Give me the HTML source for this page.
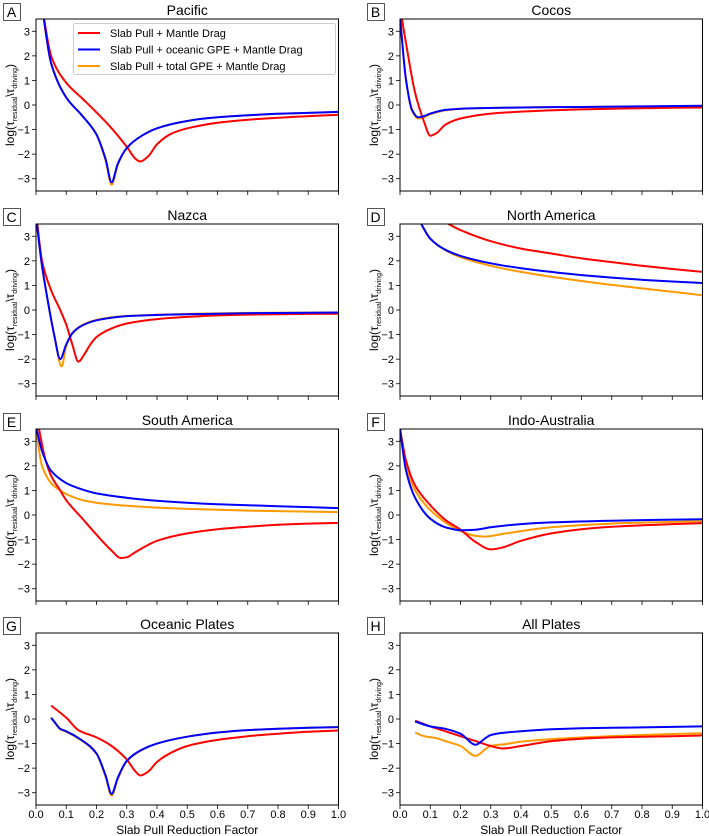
<!DOCTYPE html>
<html><head><meta charset="utf-8">
<style>
html,body{margin:0;padding:0;background:#fff;}
svg{display:block;font-family:"Liberation Sans",Arial,sans-serif;}
</style></head>
<body>
<svg id="fig" width="709" height="836" viewBox="0 0 709 836" xmlns="http://www.w3.org/2000/svg"></svg>
<script>
// ---- data ----
const panelTitles = ["Pacific","Cocos","Nazca","North America","South America","Indo-Australia","Oceanic Plates","All Plates"];
const panelLetters = ["A","B","C","D","E","F","G","H"];
const seriesNames = ["Slab Pull + Mantle Drag","Slab Pull + oceanic GPE + Mantle Drag","Slab Pull + total GPE + Mantle Drag"];
const xTicks = [0,0.1,0.2,0.3,0.4,0.5,0.6,0.7,0.8,0.9,1.0];
const xTickLabels = ["0.0","0.1","0.2","0.3","0.4","0.5","0.6","0.7","0.8","0.9","1.0"];
const yTicks = [-3,-2,-1,0,1,2,3];
const yTickLabels = ["\u22123","\u22122","\u22121","0","1","2","3"];

// Pacific
const pacRedX = [0.02,0.05,0.1,0.15,0.2,0.25,0.3,0.33,0.345,0.37,0.4,0.45,0.5,0.6,0.7,0.8,0.9,1.0];
const pacRedY = [4,2,0.9,0.3,-0.3,-0.95,-1.7,-2.2,-2.3,-2.1,-1.6,-1.15,-0.95,-0.72,-0.6,-0.52,-0.45,-0.4];
const pacBlueX = [0.02,0.05,0.1,0.15,0.2,0.23,0.25,0.27,0.3,0.35,0.4,0.5,0.6,0.7,0.8,0.9,1.0];
const pacBlueY = [4,1.7,0.3,-0.4,-1.2,-2.2,-3.15,-2.4,-1.75,-1.25,-0.95,-0.65,-0.5,-0.42,-0.36,-0.32,-0.28];
const pacOrangeX = [0.02,0.05,0.1,0.15,0.2,0.23,0.25,0.27,0.3,0.35,0.4,0.5,0.6,0.7,0.8,0.9,1.0];
const pacOrangeY = [4,1.7,0.3,-0.4,-1.2,-2.25,-3.25,-2.45,-1.75,-1.25,-0.95,-0.65,-0.5,-0.42,-0.36,-0.32,-0.28];
// Cocos
const cocRedX = [0.0,0.02,0.05,0.08,0.1,0.12,0.15,0.2,0.3,0.4,0.6,0.8,1.0];
const cocRedY = [4,2.5,0.5,-0.7,-1.25,-1.15,-0.8,-0.55,-0.35,-0.27,-0.18,-0.13,-0.1];
const cocBlueX = [0.0,0.02,0.04,0.06,0.08,0.1,0.15,0.2,0.4,0.6,1.0];
const cocBlueY = [3.6,1.0,-0.2,-0.5,-0.45,-0.35,-0.2,-0.15,-0.1,-0.08,-0.03];
const cocOrangeX = [0.0,0.02,0.04,0.06,0.08,0.1,0.15,0.2,0.4,0.6,1.0];
const cocOrangeY = [3.6,1.0,-0.25,-0.55,-0.5,-0.38,-0.22,-0.16,-0.1,-0.08,-0.04];
// Nazca
const nazRedX = [0.0,0.02,0.05,0.08,0.1,0.12,0.14,0.16,0.18,0.2,0.25,0.3,0.4,0.5,0.6,0.8,1.0];
const nazRedY = [4,2,0.8,0,-0.6,-1.4,-2.1,-1.8,-1.4,-1.1,-0.75,-0.55,-0.37,-0.28,-0.22,-0.17,-0.15];
const nazBlueX = [0.0,0.02,0.04,0.06,0.08,0.1,0.12,0.15,0.2,0.3,0.5,0.7,1.0];
const nazBlueY = [3.8,1.8,0.3,-1.0,-2.0,-1.4,-0.95,-0.65,-0.42,-0.25,-0.17,-0.13,-0.1];
const nazOrangeX = [0.0,0.02,0.04,0.06,0.085,0.1,0.12,0.15,0.2,0.3,0.5,0.7,1.0];
const nazOrangeY = [3.8,1.8,0.3,-1.0,-2.3,-1.45,-0.95,-0.63,-0.4,-0.24,-0.16,-0.12,-0.1];
// North America
const naRedX = [0.16,0.2,0.3,0.4,0.5,0.6,0.7,0.8,0.9,1.0];
const naRedY = [3.5,3.25,2.8,2.5,2.3,2.1,1.95,1.8,1.67,1.55];
const naBlueX = [0.07,0.1,0.15,0.2,0.3,0.4,0.5,0.6,0.7,0.8,0.9,1.0];
const naBlueY = [3.5,2.9,2.45,2.2,1.9,1.7,1.55,1.42,1.32,1.23,1.16,1.1];
const naOrangeX = [0.07,0.1,0.15,0.2,0.3,0.4,0.5,0.6,0.7,0.8,0.9,1.0];
const naOrangeY = [3.5,2.9,2.43,2.15,1.8,1.55,1.35,1.18,1.02,0.88,0.74,0.6];
// South America
const saRedX = [0.01,0.03,0.05,0.08,0.1,0.15,0.2,0.25,0.28,0.3,0.33,0.4,0.5,0.6,0.7,0.8,0.9,1.0];
const saRedY = [3.5,2.3,1.6,1.0,0.6,-0.1,-0.8,-1.45,-1.75,-1.72,-1.5,-1.05,-0.75,-0.58,-0.48,-0.4,-0.35,-0.32];
const saBlueX = [0.0,0.02,0.05,0.1,0.15,0.2,0.3,0.4,0.5,0.6,0.7,0.8,0.9,1.0];
const saBlueY = [3.6,2.6,1.8,1.3,1.05,0.88,0.7,0.58,0.5,0.44,0.4,0.36,0.32,0.28];
const saOrangeX = [0.0,0.02,0.05,0.08,0.1,0.15,0.2,0.3,0.4,0.5,0.7,1.0];
const saOrangeY = [3.5,2.0,1.3,1.0,0.85,0.62,0.5,0.38,0.3,0.25,0.18,0.12];
// Indo-Australia
const iaRedX = [0.0,0.02,0.05,0.1,0.15,0.2,0.25,0.3,0.33,0.4,0.5,0.6,0.7,0.8,0.9,1.0];
const iaRedY = [3.5,2.2,1.2,0.4,-0.2,-0.6,-1.1,-1.4,-1.35,-1.05,-0.75,-0.58,-0.48,-0.42,-0.37,-0.33];
const iaBlueX = [0.0,0.02,0.05,0.1,0.15,0.2,0.25,0.3,0.4,0.5,0.7,1.0];
const iaBlueY = [3.5,1.8,0.7,-0.15,-0.5,-0.62,-0.6,-0.5,-0.37,-0.3,-0.23,-0.17];
const iaOrangeX = [0.0,0.02,0.05,0.1,0.15,0.2,0.25,0.28,0.35,0.5,0.7,1.0];
const iaOrangeY = [3.5,2.0,1.0,0.2,-0.3,-0.65,-0.85,-0.88,-0.75,-0.5,-0.35,-0.25];
// Oceanic Plates
const ocRedX = [0.05,0.1,0.14,0.2,0.25,0.3,0.33,0.345,0.37,0.4,0.45,0.5,0.6,0.7,0.8,0.9,1.0];
const ocRedY = [0.55,0.05,-0.45,-0.75,-1.1,-1.65,-2.15,-2.3,-2.15,-1.75,-1.35,-1.1,-0.85,-0.7,-0.6,-0.52,-0.47];
const ocBlueX = [0.05,0.06,0.08,0.1,0.15,0.2,0.23,0.25,0.27,0.3,0.35,0.4,0.5,0.6,0.7,0.8,0.9,1.0];
const ocBlueY = [0.05,-0.1,-0.4,-0.5,-0.85,-1.4,-2.3,-3.05,-2.4,-1.7,-1.25,-1.0,-0.72,-0.55,-0.45,-0.4,-0.36,-0.33];
const ocOrangeX = [0.05,0.06,0.08,0.1,0.15,0.2,0.23,0.25,0.27,0.3,0.35,0.4,0.5,0.6,0.7,0.8,0.9,1.0];
const ocOrangeY = [0.05,-0.1,-0.42,-0.52,-0.87,-1.42,-2.35,-3.12,-2.45,-1.72,-1.26,-1.0,-0.72,-0.55,-0.45,-0.4,-0.36,-0.33];
// All Plates
const apRedX = [0.05,0.1,0.15,0.2,0.25,0.3,0.34,0.4,0.5,0.6,0.7,0.8,0.9,1.0];
const apRedY = [-0.07,-0.3,-0.5,-0.7,-0.9,-1.1,-1.2,-1.1,-0.9,-0.8,-0.75,-0.72,-0.7,-0.67];
const apBlueX = [0.05,0.1,0.15,0.2,0.25,0.28,0.3,0.35,0.4,0.5,0.6,0.8,1.0];
const apBlueY = [-0.1,-0.3,-0.4,-0.6,-1.05,-0.8,-0.65,-0.55,-0.5,-0.42,-0.38,-0.34,-0.3];
const apOrangeX = [0.05,0.08,0.12,0.15,0.2,0.25,0.28,0.3,0.35,0.4,0.5,0.6,0.8,1.0];
const apOrangeY = [-0.55,-0.7,-0.78,-0.9,-1.1,-1.5,-1.25,-1.1,-1.02,-0.92,-0.82,-0.75,-0.65,-0.58];

const panelSeries = [
  [[pacRedX,pacRedY],[pacBlueX,pacBlueY],[pacOrangeX,pacOrangeY]],
  [[cocRedX,cocRedY],[cocBlueX,cocBlueY],[cocOrangeX,cocOrangeY]],
  [[nazRedX,nazRedY],[nazBlueX,nazBlueY],[nazOrangeX,nazOrangeY]],
  [[naRedX,naRedY],[naBlueX,naBlueY],[naOrangeX,naOrangeY]],
  [[saRedX,saRedY],[saBlueX,saBlueY],[saOrangeX,saOrangeY]],
  [[iaRedX,iaRedY],[iaBlueX,iaBlueY],[iaOrangeX,iaOrangeY]],
  [[ocRedX,ocRedY],[ocBlueX,ocBlueY],[ocOrangeX,ocOrangeY]],
  [[apRedX,apRedY],[apBlueX,apBlueY],[apOrangeX,apOrangeY]]
];
const colors = ["#ff0000","#0000ff","#ff9900"];
const drawOrder = [2,0,1];

// ---- drawing ----
const NS = "http://www.w3.org/2000/svg";
const svg = document.getElementById("fig");
function mk(tag, attrs, parent){
  const e = document.createElementNS(NS, tag);
  for (const k in attrs) e.setAttribute(k, attrs[k]);
  (parent||svg).appendChild(e);
  return e;
}
// monotone cubic (Fritsch-Carlson) path in pixel space
function monoPath(px, py){
  const n = px.length;
  if (n < 2) return "";
  const d = [], m = new Array(n);
  for (let i = 0; i < n - 1; i++) d.push((py[i+1]-py[i])/(px[i+1]-px[i]));
  m[0] = d[0]; m[n-1] = d[n-2];
  for (let i = 1; i < n - 1; i++) {
    if (d[i-1]*d[i] <= 0) m[i] = 0;
    else { const h0 = px[i]-px[i-1], h1 = px[i+1]-px[i];
      m[i] = 3*(h0+h1)/((2*h1+h0)/d[i-1] + (h1+2*h0)/d[i]); }
  }
  let s = "M" + px[0].toFixed(1) + "," + py[0].toFixed(1);
  for (let i = 0; i < n - 1; i++) {
    const h = px[i+1]-px[i];
    s += "C" + (px[i]+h/3).toFixed(1) + "," + (py[i]+m[i]*h/3).toFixed(1) + " " +
         (px[i+1]-h/3).toFixed(1) + "," + (py[i+1]-m[i+1]*h/3).toFixed(1) + " " +
         px[i+1].toFixed(1) + "," + py[i+1].toFixed(1);
  }
  return s;
}
const colLeft = [36, 400];
const plotW = 302.5, plotH = 172;
const rowTop = [19, 224, 429, 633];
const defs = mk("defs", {});

for (let p = 0; p < 8; p++) {
  const col = p % 2, row = Math.floor(p / 2);
  const L = colLeft[col], T = rowTop[row];
  const xs = v => L + v * plotW;
  const ys = v => T + (3.5 - v) / 7 * plotH;
  const g = mk("g", {});
  
  

  const cp = mk("clipPath", {id: "clip" + p}, defs);
  mk("rect", {x: L, y: T, width: plotW, height: plotH}, cp);

  const lb = mk("g", {}, g);
  
  
  mk("rect", {x: L - 33 + 0.5, y: T - 16 + 0.5, width: 17, height: 17, fill: "#fff", stroke: "#555", "stroke-width": 1}, lb);
  const lt = mk("text", {x: L - 24.5, y: T - 2, "font-size": 14, "text-anchor": "middle", fill: "#000"}, lb);
  lt.textContent = panelLetters[p];

  const tt = mk("text", {x: L + plotW / 2, y: T - 4, "font-size": 14, "text-anchor": "middle", fill: "#000"}, g);
  
  
  tt.textContent = panelTitles[p];

  for (let i = 0; i < yTicks.length; i++) {
    const y = ys(yTicks[i]);
    mk("line", {x1: L - 4, x2: L, y1: y, y2: y, stroke: "#000", "stroke-width": 0.8}, g);
    const t = mk("text", {x: L - 6, y: y + 4, "font-size": 11, "text-anchor": "end", fill: "#000"}, g);
    
    
    t.textContent = yTickLabels[i];
  }
  for (let i = 0; i < xTicks.length; i++) {
    const x = xs(xTicks[i]);
    mk("line", {x1: x, x2: x, y1: T + plotH, y2: T + plotH + 4, stroke: "#000", "stroke-width": 0.8}, g);
    if (row === 3) {
      const t = mk("text", {x: x, y: T + plotH + 13, "font-size": 11, "text-anchor": "middle", fill: "#000"}, g);
      
      
      t.textContent = xTickLabels[i];
    }
  }
  if (row === 3) {
    const xl = mk("text", {x: L + plotW / 2, y: T + plotH + 29, "font-size": 12, "text-anchor": "middle", fill: "#000"}, g);
    
    
    xl.textContent = "Slab Pull Reduction Factor";
  }
  const yl = mk("text", {transform: "translate(" + (L - 22) + "," + (T + plotH / 2) + ") rotate(-90)", "font-size": 12, "text-anchor": "middle", fill: "#000"}, g);
  
  
  yl.innerHTML = 'log(τ<tspan font-size="7" dy="3">residual</tspan><tspan dy="-3">\\τ</tspan><tspan font-size="7" dy="3">driving</tspan><tspan dy="-3">)</tspan>';

  const sg = mk("g", {"clip-path": "url(#clip" + p + ")"}, g);
  for (const s of drawOrder) {
    const [X, Y] = panelSeries[p][s];
    const path = mk("path", {d: monoPath(X.map(xs), Y.map(ys)), fill: "none", stroke: colors[s], "stroke-width": 2, "stroke-linejoin": "round"}, sg);
    
    
  }
  const fr = mk("rect", {x: L, y: T, width: plotW, height: plotH, fill: "none", stroke: "#000", "stroke-width": 1}, g);
  
  

  if (p === 0) {
    const lg = mk("g", {}, g);
    
    
    mk("rect", {x: 73.5, y: 23.5, width: 262, height: 51, rx: 2, fill: "#fff", stroke: "#ccc", "stroke-width": 1}, lg);
    for (let s = 0; s < 3; s++) {
      const y = 33 + s * 16.5;
      const e = mk("g", {}, lg);
      
      
      mk("line", {x1: 78, x2: 100, y1: y, y2: y, stroke: colors[s], "stroke-width": 2}, e);
      const t = mk("text", {x: 110, y: y + 4, "font-size": 11, fill: "#000"}, e);
      t.textContent = seriesNames[s];
    }
  }
}
</script>
</body></html>
